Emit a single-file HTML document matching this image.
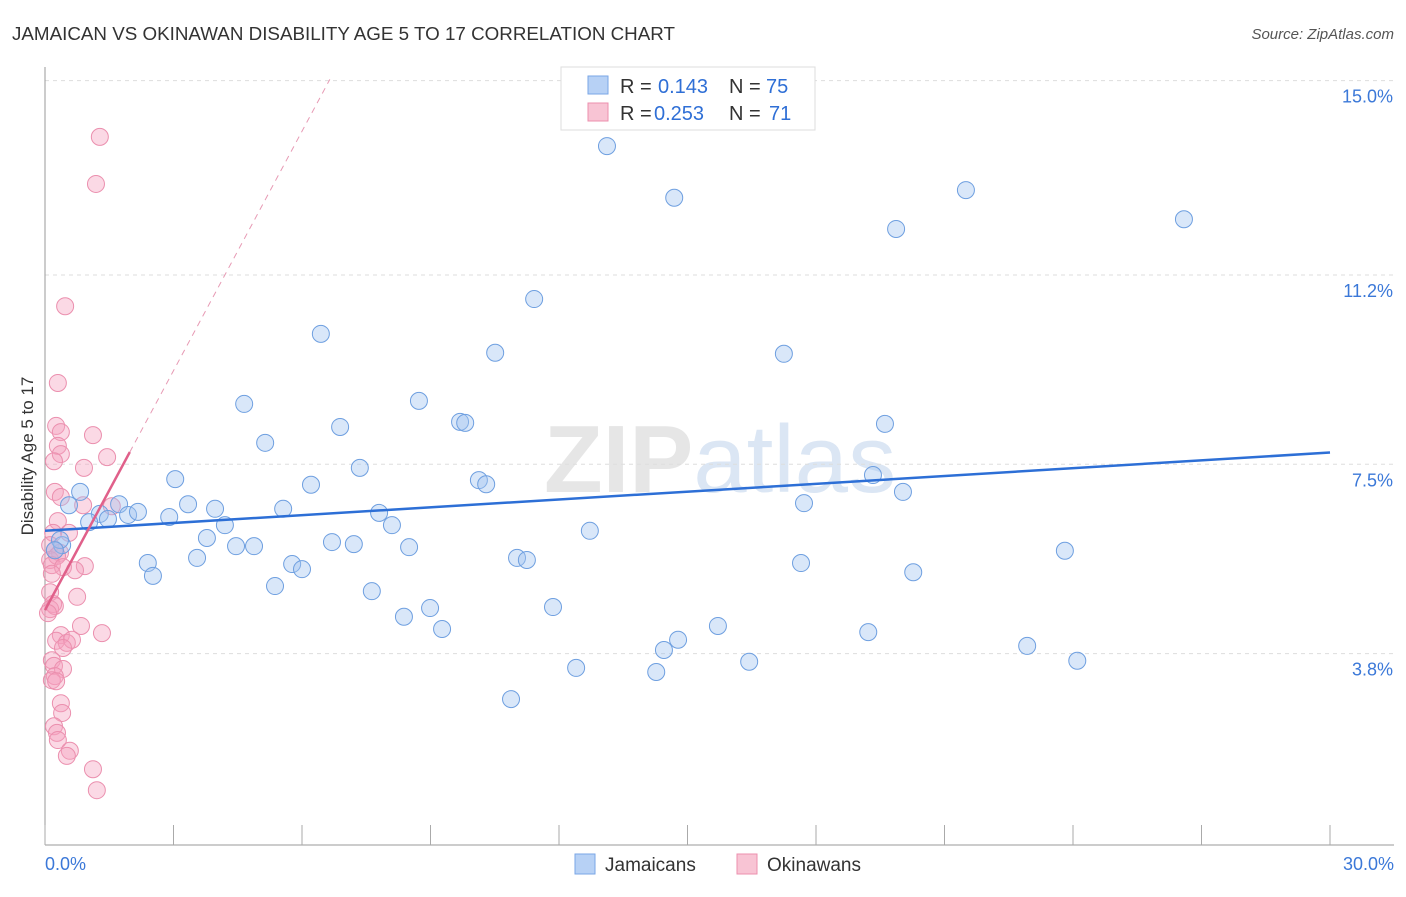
<!DOCTYPE html>
<html><head><meta charset="utf-8"><style>
body{margin:0;background:#fff;font-family:"Liberation Sans",sans-serif}
svg text{font-family:"Liberation Sans",sans-serif}
</style></head><body>
<svg id="chart" width="1406" height="892" xmlns="http://www.w3.org/2000/svg">
<text x="12" y="40" font-size="18" fill="#333" textLength="663" lengthAdjust="spacingAndGlyphs">JAMAICAN VS OKINAWAN DISABILITY AGE 5 TO 17 CORRELATION CHART</text>
<text x="1394" y="39" font-size="15" fill="#555" text-anchor="end" font-style="italic">Source: ZipAtlas.com</text>
<text x="720" y="492" font-size="96" fill="#e6e6e6" text-anchor="middle" font-family="Liberation Serif"><tspan font-weight="bold">ZIP</tspan><tspan fill="#dbe6f4" font-family="Liberation Sans">atlas</tspan></text>
<g id="grid"></g><g id="axes"></g><g id="marks"></g>
<text transform="translate(33,456) rotate(-90)" font-size="17" fill="#333" text-anchor="middle">Disability Age 5 to 17</text>
<g>
<rect x="561" y="67" width="254" height="63" fill="#fff" stroke="#ddd"/>
<rect x="588" y="76" width="20" height="18" fill="#b7d1f5" stroke="#7aa6e6"/>
<text x="620" y="93" font-size="20" fill="#333">R =</text>
<text x="658" y="93" font-size="20" fill="#2f6fd6">0.143</text>
<text x="729" y="93" font-size="20" fill="#333">N =</text>
<text x="766" y="93" font-size="20" fill="#2f6fd6">75</text>
<rect x="588" y="103" width="20" height="18" fill="#f8c4d4" stroke="#ec8fae"/>
<text x="620" y="120" font-size="20" fill="#333">R =</text>
<text x="654" y="120" font-size="20" fill="#2f6fd6">0.253</text>
<text x="729" y="120" font-size="20" fill="#333">N =</text>
<text x="769" y="120" font-size="20" fill="#2f6fd6">71</text>
</g>
<g>
<rect x="575" y="854" width="20" height="20" fill="#b7d1f5" stroke="#7aa6e6"/>
<text x="605" y="871" font-size="19" fill="#333">Jamaicans</text>
<rect x="737" y="854" width="20" height="20" fill="#f8c4d4" stroke="#ec8fae"/>
<text x="767" y="871" font-size="19" fill="#333">Okinawans</text>
</g>
</svg>
<script>
const xTicks=[0,3,6,9,12,15,18,21,24,27,30];
const yTicks=[3.8,7.5,11.2,15.0];
const yTickLabels=["3.8%","7.5%","11.2%","15.0%"];
const blueX=[13.12,14.69,21.50,19.87,26.59,11.42,6.44,10.51,17.25,4.65,8.73,9.69,9.81,6.89,19.61,5.14,7.35,3.04,10.13,10.30,6.21,19.33,20.03,0.82,0.56,1.73,3.34,17.72,1.28,1.47,1.94,2.17,2.90,3.97,5.56,7.80,4.20,8.10,1.03,12.72,3.78,4.46,4.88,6.70,7.21,8.50,0.40,23.81,11.02,11.25,2.40,3.55,5.77,6.00,17.65,20.27,2.52,5.37,7.63,11.86,8.99,8.38,9.27,15.71,14.78,14.45,19.22,22.93,16.44,24.10,12.40,14.27,10.88,0.35,0.23];
const blueY=[13.72,12.71,12.86,12.10,12.29,10.73,10.05,9.68,9.66,8.68,8.74,8.33,8.31,8.23,8.29,7.92,7.43,7.21,7.19,7.11,7.10,7.29,6.96,6.96,6.70,6.72,6.72,6.74,6.53,6.43,6.51,6.57,6.47,6.63,6.63,6.55,6.31,6.31,6.37,6.20,6.06,5.90,5.90,5.98,5.94,5.88,5.92,5.81,5.67,5.63,5.57,5.67,5.55,5.45,5.57,5.39,5.32,5.12,5.02,4.71,4.69,4.52,4.28,4.34,4.07,3.87,4.22,3.95,3.64,3.66,3.52,3.44,2.91,6.02,5.82];
const pinkX=[1.28,1.19,0.47,0.30,0.26,0.37,1.12,0.30,0.37,1.45,0.21,0.91,0.23,0.37,0.89,1.56,0.30,0.56,0.19,0.12,0.23,0.35,0.12,0.28,0.16,0.42,0.93,0.70,0.16,0.12,0.75,0.19,0.12,0.23,0.07,0.84,0.37,1.33,0.26,0.51,0.63,0.42,0.16,0.21,0.42,0.23,0.16,0.26,0.37,0.40,0.21,0.28,0.30,0.58,0.51,1.12,1.21];
const pinkY=[13.90,12.98,10.59,9.09,8.25,8.13,8.07,7.86,7.70,7.64,7.56,7.43,6.96,6.86,6.70,6.68,6.39,6.16,6.16,5.92,5.82,5.77,5.63,5.71,5.53,5.49,5.51,5.43,5.36,5.00,4.91,4.77,4.67,4.73,4.59,4.34,4.16,4.20,4.05,4.01,4.07,3.91,3.67,3.56,3.50,3.36,3.28,3.26,2.83,2.64,2.38,2.25,2.11,1.90,1.80,1.54,1.13];
const blueTrend=[6.2,7.73];
const pinkTrend=[4.65,1.56];
const X=v=>45+v*(1285/30), Y=v=>848-v*51.16;
const NS="http://www.w3.org/2000/svg";
function mk(t,a,p){const e=document.createElementNS(NS,t);for(const k in a)e.setAttribute(k,a[k]);document.getElementById(p).appendChild(e);return e;}
yTicks.forEach((t,i)=>{
 const l=mk('line',{x1:45,x2:1394,y1:Y(t),y2:Y(t),stroke:'#ddd','stroke-dasharray':'4,4'},'grid');
 
 
 const tx=mk('text',{x:1393,y:Y(t)+22,'font-size':18,fill:'#3b78d8','text-anchor':'end'},'axes');
 tx.textContent=yTickLabels[i];
 
 
});
const ax=mk('line',{x1:45,x2:45,y1:67,y2:845,stroke:'#999'},'axes');


const bx=mk('line',{x1:45,x2:1394,y1:845,y2:845,stroke:'#999'},'axes');


xTicks.forEach(t=>{const l=mk('line',{x1:X(t),x2:X(t),y1:825,y2:845,stroke:'#aaa'},'axes');
 
 });
const xl=mk('text',{x:45,y:870,'font-size':18,fill:'#3b78d8'},'axes');xl.textContent='0.0%';


const xr=mk('text',{x:1394,y:870,'font-size':18,fill:'#3b78d8','text-anchor':'end'},'axes');xr.textContent='30.0%';


pinkX.forEach((v,i)=>{const c=mk('circle',{cx:X(v),cy:Y(pinkY[i]),r:8.5,fill:'rgba(244,160,190,0.4)',stroke:'#eb8fae','stroke-width':1},'marks');
 
 });
blueX.forEach((v,i)=>{const c=mk('circle',{cx:X(v),cy:Y(blueY[i]),r:8.5,fill:'rgba(160,195,240,0.4)',stroke:'#6e9fe0','stroke-width':1},'marks');
 
 });
const bt=mk('line',{x1:X(0),y1:Y(blueTrend[0]),x2:X(30),y2:Y(blueTrend[1]),stroke:'#2d6fd6','stroke-width':2.5},'marks');


const pd=mk('line',{x1:X(1.98),y1:Y(pinkTrend[0]+pinkTrend[1]*1.98),x2:X(6.65),y2:Y(pinkTrend[0]+pinkTrend[1]*6.65),stroke:'#e79ab4','stroke-width':1,'stroke-dasharray':'6,5'},'marks');


const pt=mk('line',{x1:X(0),y1:Y(pinkTrend[0]),x2:X(1.98),y2:Y(pinkTrend[0]+pinkTrend[1]*1.98),stroke:'#e0608a','stroke-width':2.5},'marks');


</script>
</body></html>
